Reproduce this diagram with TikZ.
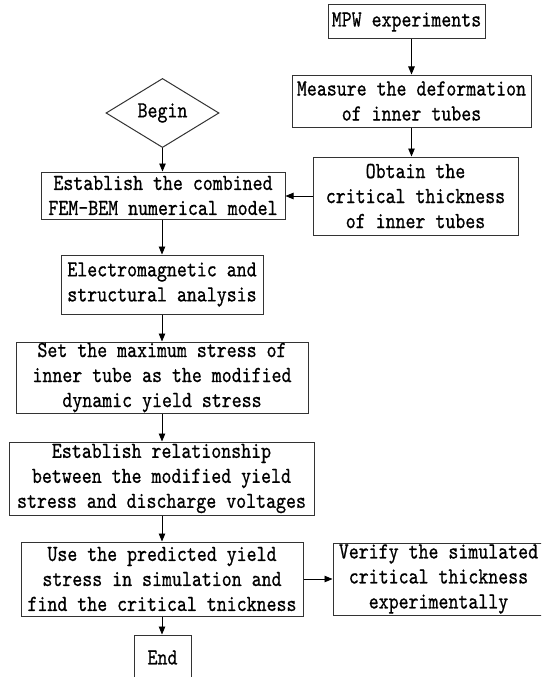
\documentclass[tikz,border=0pt]{standalone}
\usepackage{fontspec}
\newfontfamily\flowfont{lmmono10-regular.otf}[FakeStretch=0.825,FakeBold=0.7]
\usetikzlibrary{shapes.geometric,arrows.meta}
\tikzset{
  box/.style={draw=black!80, line width=1pt, rectangle, inner sep=0pt, align=center,
    font=\flowfont\fontsize{23}{25}\selectfont},
  arr/.style={draw=black, line width=0.9pt, -{Triangle[length=8pt,width=6.5pt]}},
}
\begin{document}
\begin{tikzpicture}[x=1pt,y=1pt]
\useasboundingbox (0,0) rectangle (541,-677);
\clip (0,0) rectangle (541,-677);
\fill[white] (0,0) rectangle (541,-677);
% right column
\node[box, minimum width=157pt, minimum height=34pt] (mpw) at (406.5,-22) {MPW experiments};
\node[box, minimum width=239pt, minimum height=52pt] (meas) at (411.5,-101) {Measure the deformation\\of inner tubes};
\node[box, minimum width=205pt, minimum height=78pt] (obt) at (415.5,-196) {Obtain the\\critical thickness\\of inner tubes};
% main column
\node[box, shape=diamond, minimum width=113pt, minimum height=60pt] (begin) at (162.5,-113) {Begin};
\node[box, minimum width=244pt, minimum height=47pt] (fem) at (163,-195.5) {Establish the combined\\FEM-BEM numerical model};
\node[box, minimum width=202pt, minimum height=59pt] (em) at (162,-284.5) {Electromagnetic and\\structural analysis};
\node[box, minimum width=292pt, minimum height=71pt] (set) at (162,-377.5) {Set the maximum stress of\\inner tube as the modified\\dynamic yield stress};
\node[box, minimum width=305pt, minimum height=73pt] (rel) at (161.5,-478.5) {Establish relationship\\between the modified yield\\stress and discharge voltages};
\node[box, minimum width=282pt, minimum height=74pt] (use) at (162,-579) {Use the predicted yield\\stress in simulation and\\find the critical tnickness};
\node[box, minimum width=211pt, minimum height=72pt] (ver) at (438.5,-579) {Verify the simulated\\critical thickness\\experimentally};
\node[box, minimum width=57pt, minimum height=45pt] (end) at (162.5,-657.5) {End};
% connectors
\draw[arr] (mpw.south -| meas.north) -- (meas.north);
\draw[arr] (meas.south) -- (meas.south |- obt.north);
\draw[arr] (obt.west) -- (obt.west -| fem.east);
\draw[arr] (begin.south) -- (begin.south |- fem.north);
\draw[arr] (fem.south -| em.north) -- (em.north);
\draw[arr] (em.south) -- (em.south |- set.north);
\draw[arr] (set.south) -- (set.south |- rel.north);
\draw[arr] (rel.south -| use.north) -- (use.north);
\draw[arr] (use.east) -- (use.east -| ver.west);
\draw[arr] (use.south) -- (use.south |- end.north);
\end{tikzpicture}
\end{document}
